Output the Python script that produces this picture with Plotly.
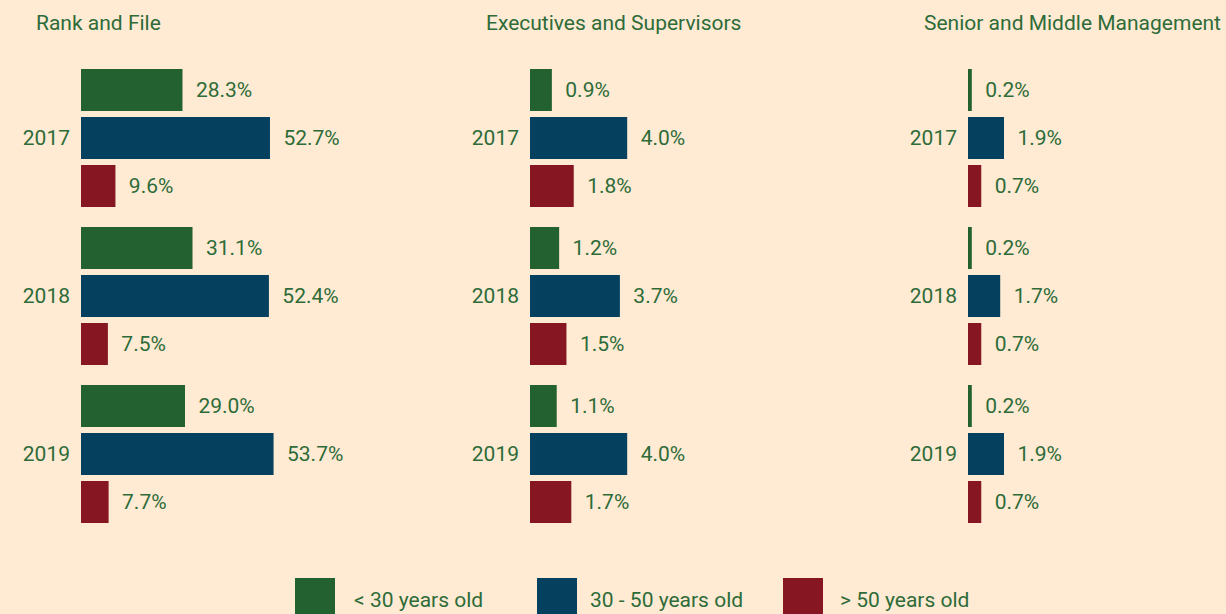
import plotly.graph_objects as go

years = ["2017", "2018", "2019"]
groups = ["< 30 years old", "30 - 50 years old", "> 50 years old"]
panels = ["Rank and File", "Executives and Supervisors", "Senior and Middle Management"]

rank_under30 = [28.3, 31.1, 29.0]
rank_30to50 = [52.7, 52.4, 53.7]
rank_over50 = [9.6, 7.5, 7.7]

exec_under30 = [0.9, 1.2, 1.1]
exec_30to50 = [4.0, 3.7, 4.0]
exec_over50 = [1.8, 1.5, 1.7]

senior_under30 = [0.2, 0.2, 0.2]
senior_30to50 = [1.9, 1.7, 1.9]
senior_over50 = [0.7, 0.7, 0.7]

panel_data = [
    [rank_under30, rank_30to50, rank_over50],
    [exec_under30, exec_30to50, exec_over50],
    [senior_under30, senior_30to50, senior_over50],
]

colors = ["#236130", "#05405E", "#851622"]
text_color = "#2E6B38"
bg = "#FFEBD4"
W, H = 1226, 614
FS = 21

x_domains_px = [(81, 440), (530, 900), (968, 1226)]
x_scales = [3.586, 24.3, 18.95]  # px per percent
title_x_px = [34, 484, 922]
legend_swatch_px = [(295, 335), (537, 577), (783, 823)]
legend_text_px = [352, 588, 838]

fig = go.Figure()
for p, series in enumerate(panel_data):
    xa = "x" if p == 0 else f"x{p+1}"
    ya = "y" if p == 0 else f"y{p+1}"
    for g, vals in enumerate(series):
        fig.add_trace(go.Bar(
            x=vals, y=years, orientation="h",
            name=groups[g], legendgroup=groups[g], showlegend=False,
            marker=dict(color=colors[g], line=dict(width=0)),
            texttemplate="\u00a0\u00a0%{x:.1f}%", textposition="outside",
            textfont=dict(size=FS, color=text_color, family="Roboto"),
            cliponaxis=False, xaxis=xa, yaxis=ya,
            hoverinfo="skip",
        ))

layout = dict(
    width=W, height=H,
    paper_bgcolor=bg, plot_bgcolor=bg,
    margin=dict(l=0, r=0, t=0, b=0),
    barmode="group", bargap=0.0886, bargroupgap=0.125,
    font=dict(family="Roboto", size=FS, color=text_color),
    showlegend=False, hovermode=False,
)
y_dom = [1 - 533 / H, 1 - 59 / H]
annotations = []
shapes = []
for p in range(3):
    sfx = "" if p == 0 else str(p + 1)
    x0, x1 = x_domains_px[p]
    layout["xaxis" + sfx] = dict(
        domain=[x0 / W, min(x1 / W, 1.0)], range=[0, (x1 - x0) / x_scales[p]],
        visible=False, fixedrange=True, anchor="y" + sfx,
    )
    layout["yaxis" + sfx] = dict(
        domain=y_dom, type="category", autorange="reversed", anchor="x" + sfx,
        showgrid=False, zeroline=False, showline=False, ticks="", fixedrange=True,
        tickfont=dict(size=FS, color=text_color), ticklabelstandoff=10,
    )
    annotations.append(dict(
        text=panels[p], xref="paper", yref="paper", x=title_x_px[p] / W, y=1 - 23 / H,
        xanchor="left", yanchor="middle", showarrow=False,
        font=dict(size=FS, color=text_color),
    ))

# legend (large swatches as in the reference)
for g in range(3):
    sx0, sx1 = legend_swatch_px[g]
    shapes.append(dict(
        type="rect", xref="paper", yref="paper",
        x0=sx0 / W, x1=sx1 / W, y0=-0.01, y1=1 - 578 / H,
        fillcolor=colors[g], line=dict(width=0),
    ))
    annotations.append(dict(
        text=groups[g], xref="paper", yref="paper", x=legend_text_px[g] / W, y=1 - 600 / H,
        xanchor="left", yanchor="middle", showarrow=False,
        font=dict(size=FS, color=text_color),
    ))

layout["annotations"] = annotations
layout["shapes"] = shapes
fig.update_layout(**layout)
fig.write_html(
    "out.html",
    config={"displayModeBar": False, "staticPlot": True},
    post_script="document.body.style.margin='0';document.body.style.overflow='hidden';",
)
